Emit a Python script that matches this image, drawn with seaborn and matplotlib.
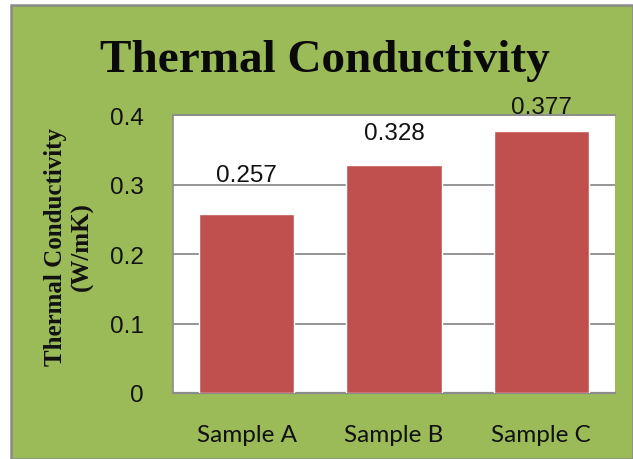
import matplotlib
matplotlib.use("Agg")
import matplotlib.pyplot as plt
from matplotlib.patches import Rectangle
import seaborn as sns
import pandas as pd

categories = ["Sample A", "Sample B", "Sample C"]
values = [0.257, 0.328, 0.377]
y_ticks = [0, 0.1, 0.2, 0.3, 0.4]
y_tick_labels = ["0", "0.1", "0.2", "0.3", "0.4"]
label_gaps_pt = [20.5, 15, 9.5]

df = pd.DataFrame({"sample": categories, "k": values})

sns.set_theme(style="white")
plt.rcParams["font.family"] = ["Liberation Sans Narrow", "Liberation Sans", "DejaVu Sans"]

GREEN = "#9BBB59"
BAR = "#C0504D"
GRID = "#8C8C8C"

W, H = 633, 460
fig = plt.figure(figsize=(W / 100, H / 100), dpi=100)
fig.patch.set_facecolor("white")

# chart frame behind everything
frame = Rectangle((11 / W, 0), (W - 11) / W, (H - 6) / H,
                  transform=fig.transFigure, facecolor=GREEN,
                  edgecolor="#8A8A8A", linewidth=1.8, zorder=-10)
fig.patches.append(frame)

left, right, top, bottom = 173, 615, 116, 394
ax = fig.add_axes([left / W, 1 - bottom / H, (right - left) / W, (bottom - top) / H])
ax.set_zorder(1)
ax.set_facecolor("white")

sns.barplot(data=df, x="sample", y="k", color=BAR, saturation=1, width=0.645,
            ax=ax, zorder=3)

ax.set_ylim(0, 0.4)
ax.set_yticks(y_ticks)
ax.set_yticklabels(y_tick_labels, fontsize=17.5)
ax.set_xlim(-0.5, 2.5)
ax.tick_params(axis="y", length=0, pad=21)
ax.tick_params(axis="x", length=0, pad=22)
for lbl in ax.get_xticklabels():
    lbl.set_fontfamily(["Lato", "DejaVu Sans"])
    lbl.set_fontsize(17.5)
    lbl.set_color("#111111")
for lbl in ax.get_yticklabels():
    lbl.set_color("#111111")

ax.yaxis.grid(True, color=GRID, linewidth=1.3, zorder=1)
ax.set_axisbelow(True)
for side in ["top", "bottom", "left"]:
    ax.spines[side].set_visible(True)
    ax.spines[side].set_color(GRID)
ax.spines["bottom"].set_linewidth(1.6)
ax.spines["left"].set_linewidth(1.2)
ax.spines["top"].set_linewidth(1.3)
ax.spines["right"].set_visible(False)

ax.set_xlabel("")
ax.set_ylabel("Thermal Conductivity\n(W/mK)", fontfamily="Liberation Serif",
              fontweight="bold", fontsize=18, linespacing=1.2,
              color="#111111", va="center")
ax.yaxis.set_label_coords(-0.235, 0.53)

for bar, v, gap in zip(ax.patches, values, label_gaps_pt):
    ax.annotate(f"{v:.3f}", (bar.get_x() + bar.get_width() / 2, v),
                xytext=(0, gap), textcoords="offset points", ha="center",
                va="bottom", fontsize=17.5, color="#111111", annotation_clip=False)

fig.text(0.513, 1 - 61 / H, "Thermal Conductivity", ha="center", va="center",
         fontfamily="Liberation Serif", fontweight="bold", fontsize=34,
         color="#0A0A0A")

fig.savefig("out.png", dpi=100, facecolor=fig.get_facecolor())
